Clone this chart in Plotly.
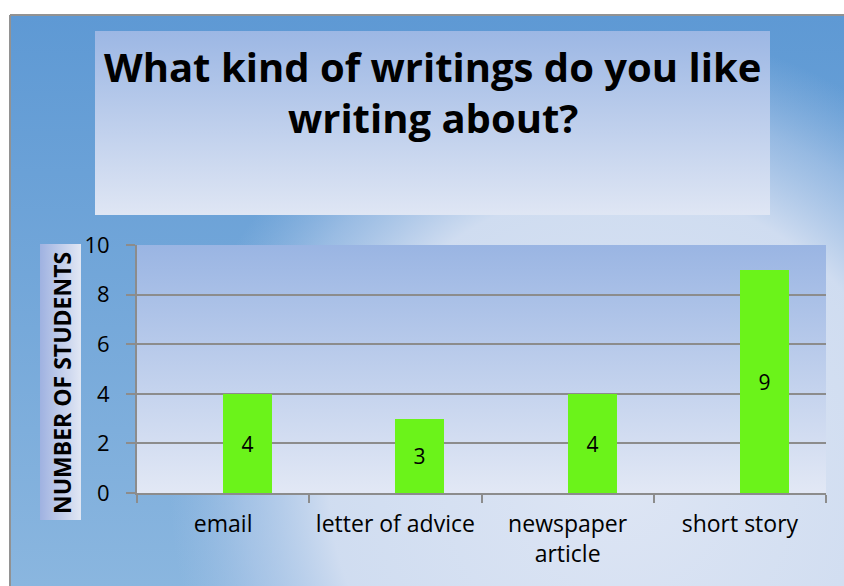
import base64
import plotly.graph_objects as go

# ---------------- data ----------------
categories = ["email", "letter of advice", "newspaper<br>article", "short story"]
students = [4, 3, 4, 9]
y_ticks = [0, 2, 4, 6, 8, 10]

title_lines = ["What kind of writings do you like", "writing about?"]
y_title = "NUMBER OF STUDENTS"

# ---------------- geometry (pixels) ----------------
W, H = 844, 586
ML, MR, MT, MB = 137, 18, 245, 93
PW, PH = W - ML - MR, H - MT - MB


def fx(px):
    return (px - ML) / PW


def fy(py):
    return (H - MB - py) / PH


# ---------------- background (gradients) ----------------
svg = f"""<svg xmlns="http://www.w3.org/2000/svg" width="{W}" height="{H}" viewBox="0 0 {W} {H}" preserveAspectRatio="none">
<defs>
<linearGradient id="bg" x1="0" y1="0" x2="0" y2="1">
<stop offset="0" stop-color="#5E99D4"/><stop offset="1" stop-color="#8AB6DF"/>
</linearGradient>
<radialGradient id="lt" gradientUnits="userSpaceOnUse" cx="620" cy="480" r="470">
<stop offset="0" stop-color="#DDE5F4" stop-opacity="1"/>
<stop offset="0.62" stop-color="#D2DEF1" stop-opacity="0.97"/>
<stop offset="0.8" stop-color="#BCCFEC" stop-opacity="0.55"/>
<stop offset="0.96" stop-color="#A9C3E6" stop-opacity="0"/>
</radialGradient>
<linearGradient id="tb" x1="0" y1="0" x2="0" y2="1">
<stop offset="0" stop-color="#9CB7E4"/><stop offset="1" stop-color="#DFE6F4"/>
</linearGradient>
<linearGradient id="pa" x1="0" y1="0" x2="0" y2="1">
<stop offset="0" stop-color="#9AB5E3"/><stop offset="1" stop-color="#E2E8F5"/>
</linearGradient>
<linearGradient id="yt" x1="0" y1="0" x2="1" y2="0">
<stop offset="0" stop-color="#9FB2E1"/><stop offset="1" stop-color="#E1E7F4"/>
</linearGradient>
</defs>
<rect x="0" y="0" width="{W}" height="{H}" fill="#FFFFFF"/>
<rect x="11" y="16" width="{W-11}" height="{H-16}" fill="url(#bg)"/>
<rect x="11" y="16" width="{W-11}" height="{H-16}" fill="url(#lt)"/>
<line x1="10" y1="15" x2="{W}" y2="15" stroke="#929292" stroke-width="2"/>
<line x1="10" y1="15" x2="10" y2="{H}" stroke="#929292" stroke-width="2"/>
<rect x="95" y="31" width="675" height="184" fill="url(#tb)"/>
<rect x="{ML}" y="{MT}" width="{PW}" height="{PH}" fill="url(#pa)"/>
<rect x="40" y="244" width="41" height="276" fill="url(#yt)"/>
</svg>"""
src = "data:image/svg+xml;base64," + base64.b64encode(svg.encode()).decode()

FONT = "Open Sans"

fig = go.Figure()
fig.add_trace(go.Bar(
    x=categories,
    y=students,
    offset=0,
    width=0.285,
    marker=dict(color="#6BF31A", line=dict(width=0)),
    text=[str(v) for v in students],
    textposition="inside",
    insidetextanchor="middle",
    textangle=0,
    textfont=dict(family=FONT, size=21, color="#000000"),
    hoverinfo="x+y",
))

annotations = [
    dict(text=f"<b>{title_lines[0]}</b>", x=fx(432), y=fy(66), xref="paper", yref="paper",
         xanchor="center", yanchor="middle", showarrow=False,
         font=dict(family=FONT, size=40, color="#000000")),
    dict(text=f"<b>{title_lines[1]}</b>", x=fx(433), y=fy(118), xref="paper", yref="paper",
         xanchor="center", yanchor="middle", showarrow=False,
         font=dict(family=FONT, size=40, color="#000000")),
    dict(text=f"<b>{y_title}</b>", x=fx(62), y=fy(383), xref="paper", yref="paper",
         xanchor="center", yanchor="middle", showarrow=False, textangle=-90,
         font=dict(family=FONT, size=23, color="#000000")),
]

fig.update_layout(
    width=W, height=H, autosize=False,
    margin=dict(l=ML, r=MR, t=MT, b=MB, pad=0),
    paper_bgcolor="#FFFFFF",
    plot_bgcolor="rgba(0,0,0,0)",
    showlegend=False,
    bargap=0,
    images=[dict(source=src, xref="paper", yref="paper", x=fx(0), y=fy(0),
                 sizex=W / PW, sizey=H / PH, xanchor="left", yanchor="top",
                 sizing="stretch", layer="below")],
    annotations=annotations,
    xaxis=dict(
        type="category", range=[-0.5, 3.5], showgrid=False,
        tickson="boundaries", ticks="outside", ticklen=8, tickwidth=1.5, tickcolor="#8C8C8C",
        showline=True, linecolor="#8C8C8C", linewidth=2,
        tickfont=dict(family=FONT, size=23, color="#000000"),
        ticklabelstandoff=9,
        fixedrange=True,
    ),
    yaxis=dict(
        range=[0, 10], tickvals=y_ticks, showgrid=True, gridcolor="#8C8C8C", gridwidth=2,
        ticks="outside", ticklen=9, tickwidth=2, tickcolor="#8C8C8C",
        showline=True, linecolor="#8C8C8C", linewidth=2, zeroline=False,
        tickfont=dict(family=FONT, size=22, color="#000000"),
        ticklabelstandoff=12,
        fixedrange=True,
    ),
)

fig.write_html("out.html", config={"displayModeBar": False},
               post_script="document.body.style.margin='0px';")
